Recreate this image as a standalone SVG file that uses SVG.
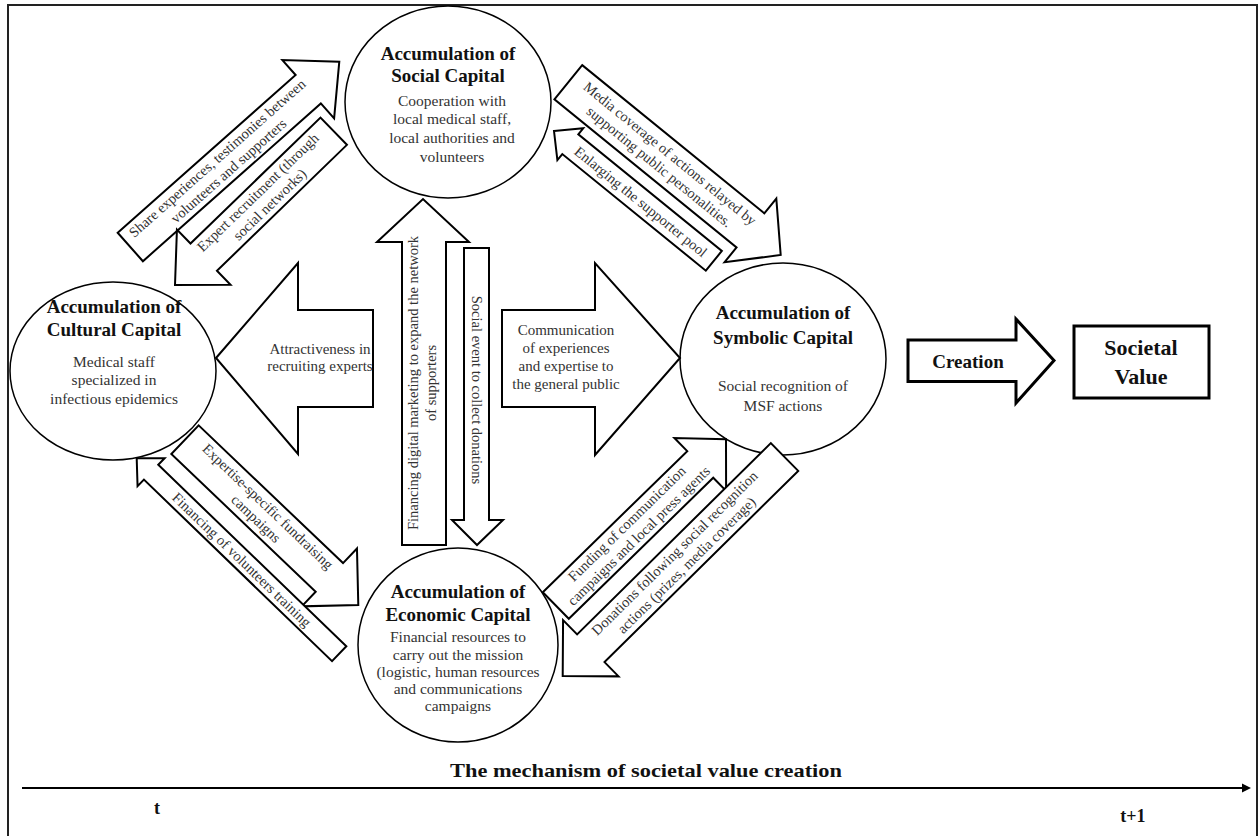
<svg xmlns="http://www.w3.org/2000/svg" width="1258" height="836" viewBox="0 0 1258 836">
<style>
.nd{fill:#fff;stroke:#000;stroke-width:1.5}
.ar{fill:#fff;stroke:#000;stroke-width:2;stroke-linejoin:miter}
.thick{fill:#fff;stroke:#000;stroke-width:3;stroke-linejoin:miter}
.h{font-family:"Liberation Serif",serif;font-weight:bold;font-size:19px;fill:#111;text-anchor:middle}
.b{font-family:"Liberation Serif",serif;font-size:15.5px;fill:#333;text-anchor:middle}
.l{font-family:"Liberation Serif",serif;font-size:14.5px;fill:#333;text-anchor:middle}
.m{font-family:"Liberation Serif",serif;font-size:15px;fill:#333;text-anchor:middle}
</style>
<rect x="8" y="5" width="1249" height="840" fill="#fff" stroke="#222" stroke-width="2"/>

<g id="node-social">
<ellipse class="nd" cx="448" cy="102" rx="103" ry="96"/>
<text class="h" x="448" y="60">Accumulation of</text>
<text class="h" x="448" y="82">Social Capital</text>
<text class="b" x="452" y="106">Cooperation with</text>
<text class="b" x="452" y="124">local medical staff,</text>
<text class="b" x="452" y="143">local authorities and</text>
<text class="b" x="452" y="162">volunteers</text>
</g>
<g id="node-cultural">
<ellipse class="nd" cx="113" cy="371" rx="103" ry="89"/>
<text class="h" x="114" y="313">Accumulation of</text>
<text class="h" x="114" y="336">Cultural Capital</text>
<text class="b" x="114" y="367">Medical staff</text>
<text class="b" x="114" y="385">specialized in</text>
<text class="b" x="114" y="404">infectious epidemics</text>
</g>
<g id="node-symbolic">
<ellipse class="nd" cx="783" cy="359" rx="103" ry="96"/>
<text class="h" x="783" y="319">Accumulation of</text>
<text class="h" x="783" y="344">Symbolic Capital</text>
<text class="b" x="783" y="391">Social recognition of</text>
<text class="b" x="783" y="411">MSF actions</text>
</g>
<g id="node-economic">
<ellipse class="nd" cx="458" cy="645" rx="100" ry="97"/>
<text class="h" x="458" y="598">Accumulation of</text>
<text class="h" x="458" y="621">Economic Capital</text>
<text class="b" x="458" y="642">Financial resources to</text>
<text class="b" x="458" y="659.5">carry out the mission</text>
<text class="b" x="458" y="677">(logistic, human resources</text>
<text class="b" x="458" y="694">and communications</text>
<text class="b" x="458" y="711">campaigns</text>
</g>
<g id="node-value">
<rect x="1074" y="326" width="135" height="72" fill="#fff" stroke="#000" stroke-width="3"/>
<text class="h" x="1141" y="355" style="font-size:22px">Societal</text>
<text class="h" x="1141" y="384" style="font-size:22px">Value</text>
</g>

<g id="connectors">
<g id="arrow-attractiveness">
<polygon class="ar" points="216,358 298,263 298,310 373,310 373,407 298,407 298,454"/>
<text class="m" x="320" y="354">Attractiveness in</text>
<text class="m" x="320" y="371">recruiting experts</text>
</g>
<g id="arrow-communication">
<polygon class="ar" points="502,310 595,310 595,263 680,358 595,455 595,407 502,407"/>
<text class="m" x="566" y="335">Communication</text>
<text class="m" x="566" y="353">of experiences</text>
<text class="m" x="566" y="371">and expertise to</text>
<text class="m" x="566" y="389">the general public</text>
</g>
<g id="arrow-financing-digital">
<polygon class="ar" points="402,545 402,242 377,242 423,199 469,242 446,242 446,545"/>
<text class="l" transform="translate(418,383) rotate(-90)">Financing digital marketing to expand the network</text>
<text class="l" transform="translate(436,383) rotate(-90)">of supporters</text>
</g>
<g id="arrow-social-event">
<polygon class="ar" points="464,248 489,248 489,520 503,520 477,545 452,520 464,520"/>
<text class="l" transform="translate(472,390) rotate(90)">Social event to collect donations</text>
</g>
<g id="arrow-share" transform="translate(130.3,247) rotate(-41.56)">
<polygon class="ar" points="0,-19 237.8,-19 237.8,-39 279.3,0 237.8,39 237.8,19 0,19"/>
<text class="l" x="124" y="-4">Share experiences, testimonies between</text>
<text class="l" x="124" y="13">volunteers and supporters</text>
</g>
<g id="arrow-expert" transform="translate(175,285) rotate(-44.1)">
<polygon class="ar" points="0,0 40,-38.5 40,-19 221,-19 221,19 40,19 40,38.5"/>
<text class="l" x="124" y="-4">Expert recruitment (through</text>
<text class="l" x="124" y="13">social networks)</text>
</g>
<g id="arrow-media" transform="translate(568.3,82.2) rotate(39.13)">
<polygon class="ar" points="0,-22 234.8,-22 234.8,-41 273.8,0 234.8,41 234.8,22 0,22"/>
<text class="l" x="124" y="-4">Media coverage of actions relayed by</text>
<text class="l" x="124" y="13">supporting public personalities.</text>
</g>
<g id="arrow-enlarging" transform="translate(554,131) rotate(39.08)">
<polygon class="ar" points="0,0 21,-20.5 21,-12.7 205.9,-12.7 205.9,12.7 21,12.7 21,20.5"/>
<text class="l" x="112" y="5">Enlarging the supporter pool</text>
</g>
<g id="arrow-expertise" transform="translate(185,439.7) rotate(43.65)">
<polygon class="ar" points="0,-19.8 199.5,-19.8 199.5,-40 239.5,0 199.5,40 199.5,19.8 0,19.8"/>
<text class="l" x="106" y="-4">Expertise-specific fundraising</text>
<text class="l" x="106" y="13">campaigns</text>
</g>
<g id="arrow-volunteers" transform="translate(136.7,458.3) rotate(43.98)">
<polygon class="ar" points="0,0 20,-19.5 20,-10.3 281.4,-10.3 281.4,10.3 20,10.3 20,19.5"/>
<text class="l" x="146" y="5">Financing of volunteers training</text>
</g>
<g id="arrow-funding" transform="translate(555.8,605.5) rotate(-44.32)">
<polygon class="ar" points="0,-18.6 201.9,-18.6 201.9,-37 237.9,0 201.9,37 201.9,18.6 0,18.6"/>
<text class="l" x="108" y="-4">Funding of communication</text>
<text class="l" x="108" y="13">campaigns and local press agents</text>
</g>
<g id="arrow-donations" transform="translate(562.7,676) rotate(-44.63)">
<polygon class="ar" points="0,0 39.5,-39.5 39.5,-19.5 311.7,-19.5 311.7,19.5 39.5,19.5 39.5,39.5"/>
<text class="l" x="166" y="-4">Donations following social recognition</text>
<text class="l" x="166" y="13">actions (prizes, media coverage)</text>
</g>
<g id="arrow-creation">
<polygon class="thick" points="908,340 1016,340 1016,319 1054,360.5 1016,403 1016,381.5 908,381.5"/>
<text class="h" x="968" y="368">Creation</text>
</g>
</g>

<g id="timeline">
<text class="h" x="646" y="777" textLength="392" lengthAdjust="spacingAndGlyphs">The mechanism of societal value creation</text>
<line x1="22" y1="788" x2="1244" y2="788" stroke="#000" stroke-width="2"/>
<polygon points="1242,783.5 1251,788 1242,792.5" fill="#000"/>
<text class="h" x="157" y="814" style="font-size:18px">t</text>
<text class="h" x="1133" y="822" style="font-size:18px">t+1</text>
</g>
</svg>
